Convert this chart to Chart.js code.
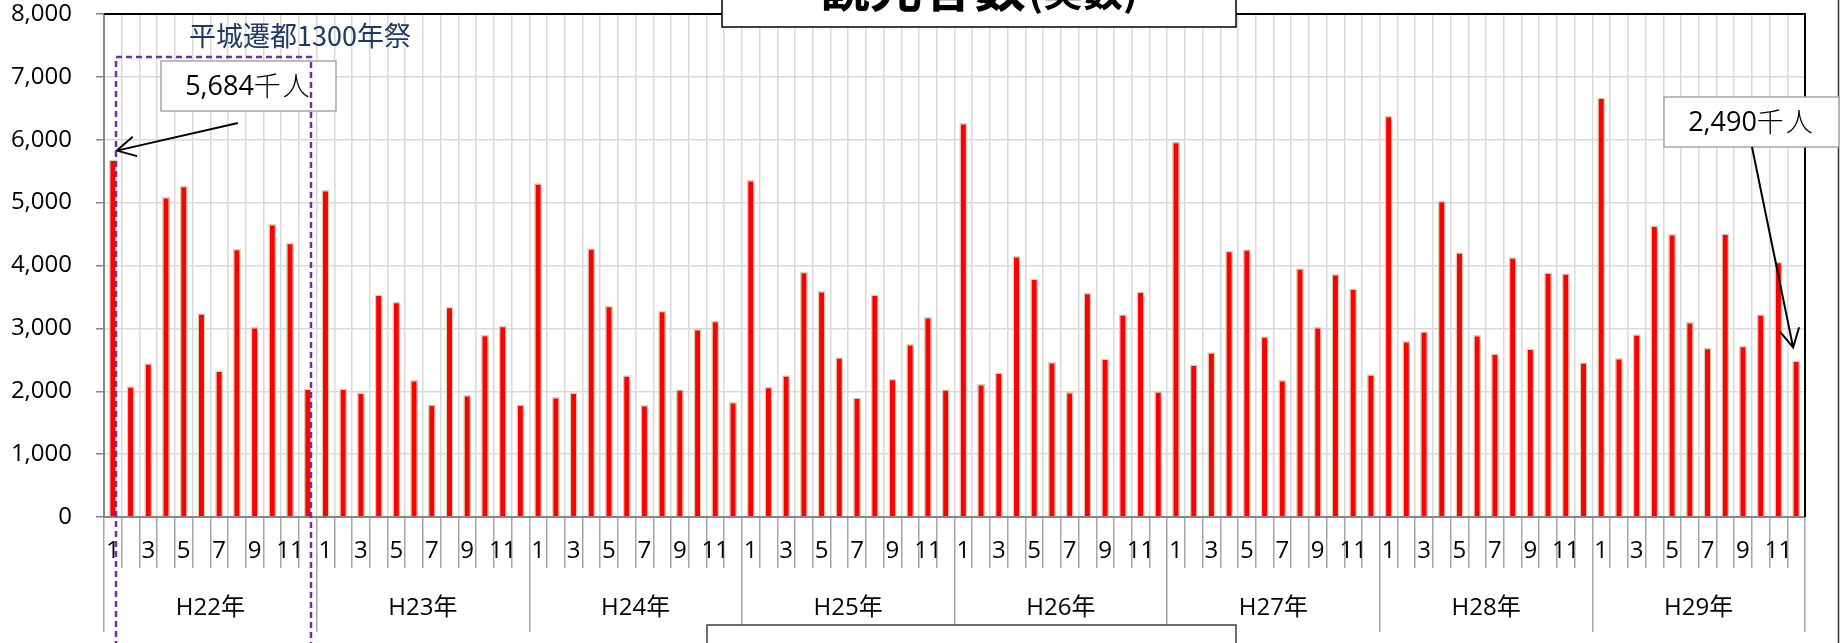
<!DOCTYPE html>
<html>
<head>
<meta charset="utf-8">
<script src="https://cdn.jsdelivr.net/npm/chart.js@4.4.1/dist/chart.umd.min.js"></script>
<style>
  html, body { margin: 0; padding: 0; background: #fff; }
  canvas { display: block; }
</style>
</head>
<body>
<canvas id="visitorChart" width="1845" height="643"></canvas>
<script>
// Monthly visitors (thousand people)
const years = ['H22年', 'H23年', 'H24年', 'H25年', 'H26年', 'H27年', 'H28年', 'H29年'];
const months = ['1', '2', '3', '4', '5', '6', '7', '8', '9', '10', '11', '12'];

const h22 = [5684, 2080, 2445, 5090, 5270, 3240, 2330, 4265, 3020, 4660, 4360, 2045];
const h23 = [5200, 2045, 1980, 3540, 3425, 2180, 1790, 3345, 1940, 2900, 3040, 1790];
const h24 = [5310, 1910, 1980, 4275, 3360, 2255, 1780, 3280, 2030, 2990, 3120, 1830];
const h25 = [5360, 2070, 2255, 3900, 3595, 2540, 1900, 3540, 2200, 2750, 3180, 2030];
const h26 = [6265, 2115, 2300, 4150, 3795, 2465, 1990, 3565, 2520, 3225, 3585, 2000];
const h27 = [5970, 2425, 2620, 4235, 4258, 2875, 2180, 3955, 3020, 3865, 3635, 2270];
const h28 = [6380, 2800, 2955, 5030, 4210, 2895, 2600, 4130, 2680, 3890, 3875, 2460];
const h29 = [6670, 2530, 2905, 4635, 4500, 3100, 2690, 4510, 2725, 3225, 4060, 2490];

const yTicks = [0, 1000, 2000, 3000, 4000, 5000, 6000, 7000, 8000];

const visitors = [].concat(h22, h23, h24, h25, h26, h27, h28, h29);
const monthLabels = years.flatMap(() => months);

const latin = '"Open Sans", "Noto Sans CJK JP", sans-serif';
const cjk = '"Noto Sans CJK JP", sans-serif';
Chart.defaults.font.family = latin;
Chart.defaults.color = '#000';

function drawArrow(ctx, x1, y1, x2, y2) {
  const ang = Math.atan2(y1 - y2, x1 - x2);
  const len = 21, spread = 0.49;
  ctx.beginPath();
  ctx.moveTo(x1, y1);
  ctx.lineTo(x2, y2);
  ctx.moveTo(x2 + len * Math.cos(ang - spread), y2 + len * Math.sin(ang - spread));
  ctx.lineTo(x2, y2);
  ctx.lineTo(x2 + len * Math.cos(ang + spread), y2 + len * Math.sin(ang + spread));
  ctx.stroke();
}

function callout(ctx, x, y, w, h, num) {
  ctx.fillStyle = '#fff';
  ctx.fillRect(x, y, w, h);
  ctx.strokeStyle = '#a6a6a6';
  ctx.lineWidth = 1.5;
  ctx.strokeRect(x, y, w, h);
  ctx.fillStyle = '#000';
  ctx.textBaseline = 'middle';
  ctx.textAlign = 'left';
  const unit = '千人';
  ctx.font = '27px ' + latin;
  const nw = ctx.measureText(num).width;
  ctx.font = '300 27px ' + cjk;
  ctx.letterSpacing = '2px';
  const uw = ctx.measureText(unit).width;
  const sx = x + (w - nw - uw) / 2;
  ctx.fillText(unit, sx + nw, y + h / 2);
  ctx.letterSpacing = '0px';
  ctx.font = '27px ' + latin;
  ctx.fillText(num, sx, y + h / 2 + 1);
}

const annotations = {
  id: 'annotations',
  afterDraw(chart) {
    const { ctx, chartArea, scales } = chart;
    ctx.save();

    // plot border, top and right
    ctx.strokeStyle = '#000';
    ctx.lineWidth = 2;
    ctx.beginPath();
    ctx.moveTo(chartArea.left, chartArea.top);
    ctx.lineTo(chartArea.right, chartArea.top);
    ctx.lineTo(chartArea.right, chartArea.bottom);
    ctx.stroke();

    // outer frame on the right
    ctx.strokeStyle = '#333';
    ctx.lineWidth = 1.5;
    ctx.beginPath();
    ctx.moveTo(1838.5, 0);
    ctx.lineTo(1838.5, 643);
    ctx.stroke();

    // title box (cut off at the top)
    ctx.fillStyle = '#fff';
    ctx.fillRect(722, -10, 514, 37);
    ctx.strokeStyle = '#000';
    ctx.lineWidth = 1.5;
    ctx.strokeRect(722, -10, 514, 37);
    ctx.fillStyle = '#000';
    ctx.textAlign = 'left';
    ctx.textBaseline = 'alphabetic';
    ctx.font = 'bold 52px ' + cjk;
    ctx.fillText('観光客数', 818, 7);
    ctx.font = 'bold 40px ' + cjk;
    ctx.fillText('(実数)', 1028, 6);

    // box at the bottom (cut off)
    ctx.fillStyle = '#fff';
    ctx.fillRect(707, 625, 529, 40);
    ctx.strokeStyle = '#404040';
    ctx.lineWidth = 1.5;
    ctx.strokeRect(707, 625, 529, 40);

    // event label
    ctx.fillStyle = '#1f3864';
    ctx.font = '27px ' + cjk;
    ctx.textBaseline = 'middle';
    ctx.fillText('平城遷都1300年祭', 189, 36);

    // callouts
    const x = scales.x, y = scales.y;
    const first = 0, last = visitors.length - 1;
    callout(ctx, 161, 61, 175, 50, '5,684');
    ctx.strokeStyle = '#000';
    ctx.lineWidth = 2;
    drawArrow(ctx, 238, 123, x.getPixelForValue(first) + 4, y.getPixelForValue(visitors[first]) - 9);

    callout(ctx, 1664, 97, 175, 50, '2,490');
    ctx.strokeStyle = '#000';
    ctx.lineWidth = 2;
    drawArrow(ctx, 1752, 147, x.getPixelForValue(last) - 3, y.getPixelForValue(visitors[last]) - 13);

    // dashed frame around H22
    ctx.strokeStyle = '#7030a0';
    ctx.lineWidth = 2.5;
    ctx.setLineDash([6, 4]);
    ctx.strokeRect(116, 57, 195, 640);
    ctx.setLineDash([]);

    ctx.restore();
  }
};

new Chart(document.getElementById('visitorChart'), {
  type: 'bar',
  data: {
    labels: monthLabels,
    datasets: [{
      data: visitors,
      backgroundColor: '#ff0000',
      borderColor: '#d6d0b8',
      borderWidth: 1.5,
      barPercentage: 0.45,
      categoryPercentage: 1
    }]
  },
  options: {
    responsive: false,
    animation: false,
    devicePixelRatio: 1,
    layout: { padding: { top: 14, right: 40, left: 0, bottom: 0 } },
    plugins: { legend: { display: false }, tooltip: { enabled: false } },
    scales: {
      x: {
        position: 'bottom',
        weight: 0,
        offset: true,
        grid: { offset: true, color: '#d9d9d9', lineWidth: 1.5, tickColor: '#a6a6a6', tickLength: 51 },
        border: { color: '#868686', width: 2 },
        ticks: {
          autoSkip: false, maxRotation: 0, minRotation: 0, padding: -31,
          font: { size: 24 },
          callback: (v, i) => (i % 2 === 0 ? monthLabels[i] : '')
        },
        afterFit: s => { s.height = 51; s.paddingLeft = 0; s.paddingRight = 0; }
      },
      x2: {
        type: 'category',
        labels: years,
        position: 'bottom',
        weight: 1,
        offset: true,
        grid: { offset: true, drawOnChartArea: false, tickColor: '#a6a6a6', lineWidth: 1.5, tickLength: 64 },
        border: { display: false },
        ticks: { autoSkip: false, maxRotation: 0, padding: -38, font: { size: 24 } },
        afterFit: s => { s.height = 75; s.paddingLeft = 0; s.paddingRight = 0; }
      },
      y: {
        min: 0,
        max: 8000,
        afterBuildTicks: s => { s.ticks = yTicks.map(v => ({ value: v })); },
        grid: { color: '#d9d9d9', lineWidth: 1.5, tickColor: '#868686', tickLength: 8 },
        border: { color: '#868686', width: 2 },
        ticks: {
          padding: 24,
          font: { size: 24 },
          callback: v => v.toLocaleString('en-US')
        },
        afterFit: s => { s.width = 104; s.paddingTop = 0; s.paddingBottom = 0; }
      }
    }
  },
  plugins: [annotations]
});
</script>
</body>
</html>
